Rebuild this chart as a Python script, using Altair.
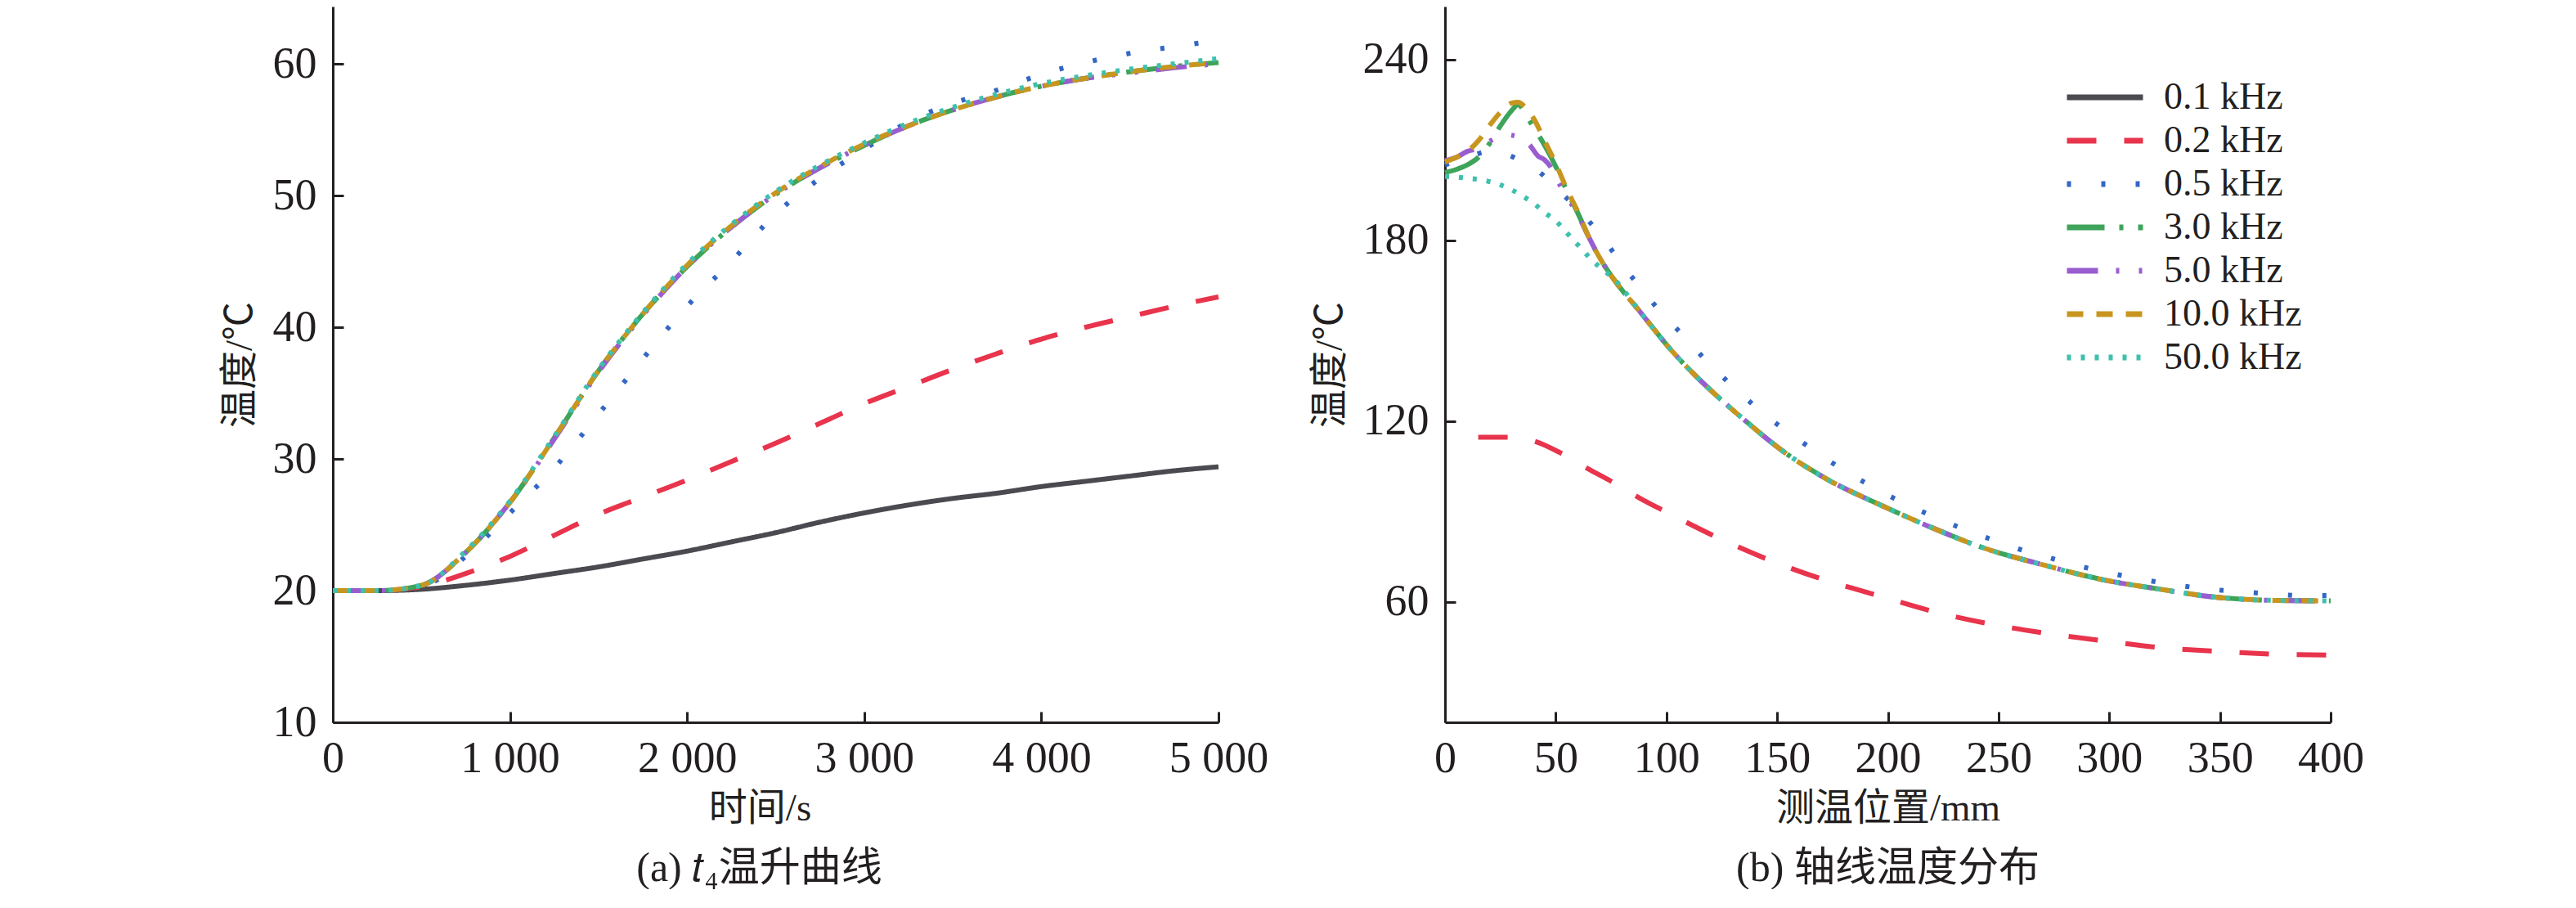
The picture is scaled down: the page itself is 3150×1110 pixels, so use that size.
import altair as alt
import pandas as pd

# ---------------- legend / series ----------------
freqs = ["0.1 kHz", "0.2 kHz", "0.5 kHz", "3.0 kHz", "5.0 kHz", "10.0 kHz", "50.0 kHz"]
colors = ["#4a4a50", "#e8344c", "#3467c4", "#3ea45a", "#9a5dd0", "#c8961f", "#3fc0ad"]
dashes = [[1, 0], [36, 34], [5, 37], [46, 18, 5, 18], [38, 22, 4, 24, 4, 22], [20, 16], [5, 12]]

# ---------------- panel (a): t4 temperature rise ----------------
time_s = [0, 250, 500, 750, 1000, 1250, 1500, 1750, 2000, 2250, 2500,
          2750, 3000, 3250, 3500, 3750, 4000, 4250, 4500, 4750, 5000]
a_01 = [20.0, 20.0, 20.1, 20.4, 20.8, 21.3, 21.8, 22.4, 23.0, 23.7, 24.4,
        25.2, 25.9, 26.5, 27.0, 27.4, 27.9, 28.3, 28.7, 29.1, 29.4]
a_02 = [20.0, 20.0, 20.3, 21.3, 22.6, 24.2, 25.8, 27.1, 28.4, 29.8, 31.2,
        32.7, 34.2, 35.5, 36.8, 38.0, 39.1, 40.0, 40.8, 41.6, 42.3]
a_05 = [20.0, 20.0, 20.3, 22.6, 25.9, 29.3, 33.4, 37.6, 41.6, 45.0, 48.6,
        51.3, 53.5, 55.6, 57.0, 58.0, 59.2, 60.1, 60.8, 61.3, 61.8]
a_30 = [20.0, 20.0, 20.4, 22.9, 26.7, 31.6, 36.7, 41.0, 44.6, 47.6, 50.1,
        52.1, 53.8, 55.3, 56.5, 57.5, 58.3, 58.9, 59.4, 59.8, 60.1]
a_50 = [20.0, 20.0, 20.4, 22.9, 26.7, 31.5, 36.6, 40.9, 44.6, 47.6, 50.1,
        52.1, 53.8, 55.3, 56.5, 57.5, 58.3, 58.9, 59.3, 59.7, 60.0]
a_100 = [20.0, 20.0, 20.4, 22.9, 26.7, 31.6, 36.7, 41.0, 44.7, 47.7, 50.2,
         52.2, 53.9, 55.3, 56.5, 57.5, 58.3, 58.9, 59.4, 59.8, 60.1]
a_500 = [20.0, 20.0, 20.4, 23.0, 26.8, 31.7, 36.8, 41.1, 44.8, 47.8, 50.3,
         52.3, 54.0, 55.5, 56.7, 57.7, 58.5, 59.1, 59.6, 60.0, 60.4]

time_ticks = [0, 1000, 2000, 3000, 4000, 5000]
temp_ticks_a = [10, 20, 30, 40, 50, 60]

# ---------------- panel (b): axial temperature distribution ----------------
b_02_pos = [15, 28, 40, 52, 65, 76, 88, 100, 122, 145, 170, 195, 220, 245, 271, 297, 323, 350, 376, 400]
b_02 = [114.6, 114.6, 113.4, 109.5, 104.0, 99.6, 94.4, 89.8, 81.7, 74.3, 67.6,
        62.2, 56.9, 52.8, 49.6, 47.1, 44.8, 43.5, 42.6, 42.3]

b_05_pos = [0, 10, 20, 28, 35, 42, 50, 57, 63, 72, 80, 89, 98, 108, 117.5, 127.5, 138, 149,
            160.5, 172, 184, 196, 209, 222, 235, 248, 261, 275, 288, 302, 316, 330, 344, 358,
            372, 386, 400]
b_05 = [205.0, 207.5, 209.5, 208.5, 206.0, 203.0, 197.5, 192.5, 188.0, 180.0, 172.0, 163.6,
        155.7, 148.1, 140.4, 133.2, 126.2, 119.5, 113.4, 107.5, 102.0, 97.0, 92.1, 87.9, 83.9,
        80.4, 77.1, 74.2, 71.6, 69.3, 67.3, 65.6, 64.3, 63.4, 62.7, 62.1, 62.1]

# common tail of the high-frequency curves
tail_pos = [75.6, 88.5, 102.8, 117, 135, 153, 174, 195, 218, 244, 270, 296, 322, 347, 373, 400]
tail_temp = [167.7, 155.9, 143.0, 132.3, 120.5, 109.8, 100.1, 92.7, 85.2, 77.7, 72.3,
             67.5, 64.3, 61.6, 60.5, 60.3]

head_pos_30 = [0, 5, 10, 15, 20, 25, 30, 33, 37, 40, 45, 50, 55, 60, 65, 70]
head_30 = [202.5, 203.5, 205.0, 207.5, 212.0, 218.0, 223.0, 225.0, 221.0, 217.5, 211.5,
           204.5, 196.5, 189.0, 181.0, 174.0]
head_pos_50 = [0, 5, 10, 15, 20, 25, 28, 32, 35, 38, 42, 45, 48, 50, 55, 60, 65, 70]
head_50 = [206.5, 207.5, 209.5, 210.5, 212.8, 214.5, 215.0, 214.5, 213.5, 211.8, 208.0,
           206.7, 204.0, 201.0, 194.5, 188.5, 181.0, 174.0]
head_pos_100 = [0, 5, 10, 15, 20, 25, 30, 33, 37, 40, 45, 50, 55, 60, 65, 70]
head_100 = [206.0, 207.5, 209.5, 213.0, 218.0, 222.5, 225.5, 225.8, 223.5, 220.5, 213.0,
            205.5, 197.0, 189.5, 181.0, 174.0]
head_pos_500 = [0, 5, 10, 15, 20, 25, 30, 35, 40, 45, 50, 55, 60, 65, 70]
head_500 = [201.2, 201.0, 200.6, 200.2, 199.5, 198.4, 196.8, 194.7, 192.3, 189.2, 186.5,
            182.5, 178.5, 174.5, 171.0]

pos_ticks = [0, 50, 100, 150, 200, 250, 300, 350, 400]
temp_ticks_b = [60, 120, 180, 240]

# ---------------- tables ----------------
def rows(xs, ys, name):
    return [{"x": x, "y": y, "f": name} for x, y in zip(xs, ys)]

df_a = pd.DataFrame(
    rows(time_s, a_01, freqs[0]) + rows(time_s, a_02, freqs[1]) + rows(time_s, a_05, freqs[2])
    + rows(time_s, a_30, freqs[3]) + rows(time_s, a_50, freqs[4]) + rows(time_s, a_100, freqs[5])
    + rows(time_s, a_500, freqs[6])
)
df_b = pd.DataFrame(
    rows(b_02_pos, b_02, freqs[1]) + rows(b_05_pos, b_05, freqs[2])
    + rows(head_pos_30 + tail_pos, head_30 + tail_temp, freqs[3])
    + rows(head_pos_50 + tail_pos, head_50 + tail_temp, freqs[4])
    + rows(head_pos_100 + tail_pos, head_100 + tail_temp, freqs[5])
    + rows(head_pos_500 + tail_pos, head_500 + tail_temp, freqs[6])
)

SERIF = "Liberation Serif"
MIXED = "Liberation Serif, Noto Sans CJK SC"
INK = "#231f20"

color_scale = alt.Scale(domain=freqs, range=colors)
dash_scale = alt.Scale(domain=freqs, range=dashes)

legend_b = alt.Legend(
    title=None, orient="none", legendX=757, legendY=87,
    symbolType="stroke", symbolSize=8649, symbolStrokeWidth=7,
    clipHeight=48, rowPadding=5, labelOffset=22, symbolOffset=0, padding=0,
    labelFont=SERIF, labelFontSize=46, labelColor=INK, labelLimit=600,
)

thousands = "replace(format(datum.value, ','), ',', ' ')"

left = alt.Chart(df_a).mark_line(interpolate="monotone", strokeWidth=6).encode(
    x=alt.X("x:Q", scale=alt.Scale(domain=[0, 5000], nice=False, zero=False),
            axis=alt.Axis(values=time_ticks, title="时间/s", labelExpr=thousands, titleX=522)),
    y=alt.Y("y:Q", scale=alt.Scale(domain=[10, 64.35], nice=False, zero=False),
            axis=alt.Axis(values=temp_ticks_a, title="温度/℃")),
    color=alt.Color("f:N", scale=color_scale, legend=None),
    strokeDash=alt.StrokeDash("f:N", scale=dash_scale, legend=None),
).properties(
    width=1083, height=875,
    title=alt.TitleParams("(a) 𝑡₄温升曲线", orient="bottom", anchor="middle", frame="group", dx=-20),
)

right = alt.Chart(df_b).mark_line(interpolate="monotone", strokeWidth=6).encode(
    x=alt.X("x:Q", scale=alt.Scale(domain=[0, 400], nice=False, zero=False),
            axis=alt.Axis(values=pos_ticks, title="测温位置/mm")),
    y=alt.Y("y:Q", scale=alt.Scale(domain=[20, 257.6], nice=False, zero=False),
            axis=alt.Axis(values=temp_ticks_b, title="温度/℃")),
    color=alt.Color("f:N", scale=color_scale, legend=legend_b),
    strokeDash=alt.StrokeDash("f:N", scale=dash_scale, legend=legend_b),
).properties(
    width=1083, height=875,
    title=alt.TitleParams("(b) 轴线温度分布", orient="bottom", anchor="middle", frame="group"),
)

chart = alt.hconcat(left, right, spacing=277, bounds="flush").resolve_scale(
    color="independent", strokeDash="independent"
).properties(
    padding={"left": 261, "top": 0, "right": 10, "bottom": 0},
    background="white",
).configure_view(
    strokeWidth=0
).configure_axis(
    grid=False, domainColor=INK, domainWidth=3, tickColor=INK, tickWidth=3,
    tickSize={"expr": "-13"}, labelFont=SERIF, labelFontSize=54, labelColor=INK,
    labelFlush=False, labelOverlap=False,
    titleFont=MIXED, titleFontSize=47, titleFontWeight="normal", titleColor=INK,
).configure_axisX(
    labelPadding=30, titlePadding=11
).configure_axisY(
    labelPadding=33, titlePadding=16
).configure_title(
    font=MIXED, fontSize=50, fontWeight="normal", color=INK, offset=26
)

chart.save("out.html", embed_options={"renderer": "svg", "actions": False})
